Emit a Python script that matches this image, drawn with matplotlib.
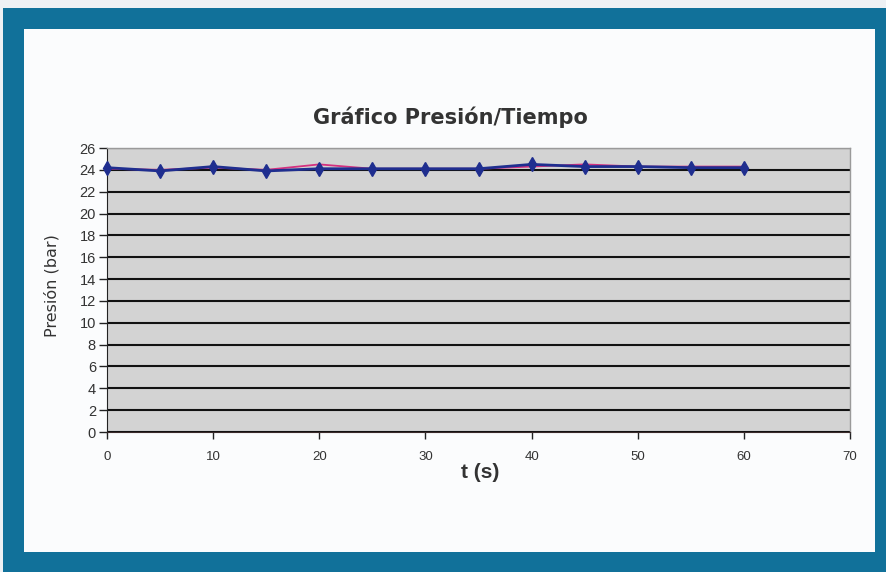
import matplotlib
matplotlib.use("Agg")
import matplotlib.pyplot as plt
from matplotlib.patches import Rectangle

t_s = [0, 5, 10, 15, 20, 25, 30, 35, 40, 45, 50, 55, 60]
presion_a = [24.2, 23.9, 24.3, 23.9, 24.1, 24.1, 24.1, 24.1, 24.5, 24.3, 24.3, 24.2, 24.2]
presion_b = [24.1, 24.0, 24.2, 24.0, 24.5, 24.1, 24.1, 24.1, 24.3, 24.5, 24.3, 24.3, 24.3]
y_ticks = list(range(0, 27, 2))
x_ticks = list(range(0, 71, 10))

W, H = 886, 572
plt.rcParams['font.family'] = ['Liberation Sans', 'DejaVu Sans']
fig = plt.figure(figsize=(W / 100, H / 100), dpi=100)
fig.patch.set_facecolor("#eef1f4")

def px_rect(x0, y0, x1, y1, color, z):
    fig.patches.append(Rectangle((x0 / W, 1 - y1 / H), (x1 - x0) / W, (y1 - y0) / H,
                                 transform=fig.transFigure, facecolor=color,
                                 edgecolor="none", zorder=z))

px_rect(3, 8, 886, 572, "#11719a", 0)
px_rect(24, 29, 875, 552, "#fbfcfd", 1)

ax = fig.add_axes([107 / W, 1 - 432 / H, 743 / W, 284 / H])
ax.set_zorder(5)
ax.set_facecolor("#d3d3d3")
ax.set_xlim(0, 70)
ax.set_ylim(0, 26)
ax.set_yticks(y_ticks)
ax.set_xticks(x_ticks)
ax.yaxis.grid(True, color="#111111", linewidth=1.5)
ax.set_axisbelow(True)
for s in ["top", "right"]:
    ax.spines[s].set_color("#9a9a9a")
    ax.spines[s].set_linewidth(1.0)
ax.spines["left"].set_color("#222222")
ax.spines["bottom"].set_color("#3a2a2a")
ax.tick_params(axis="y", direction="out", length=6, width=1, colors="#222222",
               labelsize=10.5, pad=2)
ax.tick_params(axis="x", direction="out", length=5, width=1, colors="#222222",
               labelsize=9.5, pad=9)
for lab in ax.get_yticklabels() + ax.get_xticklabels():
    lab.set_color("#333333")

ax.plot(t_s, presion_b, color="#d4307f", linewidth=1.3, zorder=3, clip_on=False)
ax.plot(t_s, presion_a, color="#1f2e8f", linewidth=2.0, marker="d", markersize=7,
        zorder=4, clip_on=False)

fig.text(450 / W, 1 - 117 / H, "Gráfico Presión/Tiempo", ha="center", va="center",
         fontsize=15, fontweight="bold", color="#333333", family="DejaVu Sans", zorder=6)
fig.text(480 / W, 1 - 473 / H, "t (s)", ha="center", va="center",
         fontsize=15, fontweight="bold", color="#333333", zorder=6)
fig.text(52 / W, 1 - 286 / H, "Presión (bar)", ha="center", va="center",
         rotation=90, fontsize=11.5, color="#333333", family="DejaVu Sans", zorder=6)

fig.savefig("out.png", dpi=100)
